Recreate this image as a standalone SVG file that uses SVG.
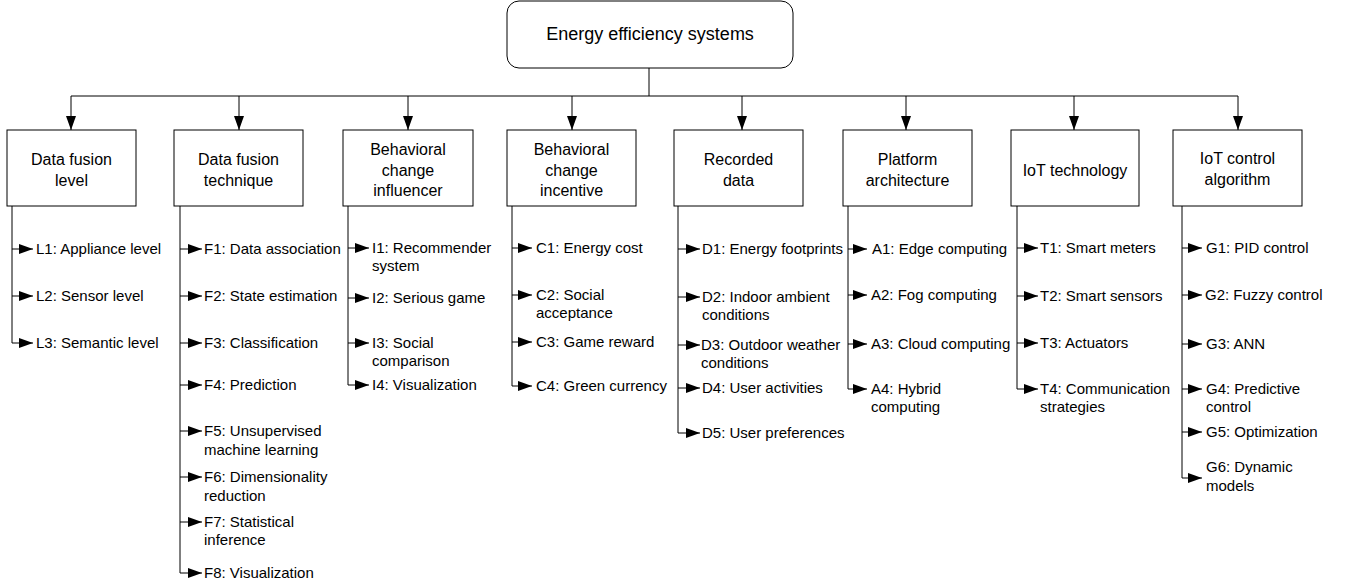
<svg xmlns="http://www.w3.org/2000/svg" width="1347" height="588" viewBox="0 0 1347 588">
<style>
.box{fill:#fff;stroke:#000;stroke-width:1}
.ln{fill:none;stroke:#000;stroke-width:1}
.t{font-family:"Liberation Sans",Arial,sans-serif;fill:#000}
.root{font-size:18px;text-anchor:middle}
.cat{font-size:16px;text-anchor:middle}
.leaf{font-size:15px}
</style>
<defs>
<marker id="ah" markerUnits="userSpaceOnUse" markerWidth="15" markerHeight="11" refX="14" refY="5" orient="auto">
<path d="M0,0 L14,5 L0,10 z" fill="#000"/>
</marker>
</defs>
<rect width="1347" height="588" fill="#fff"/>

<g id="connectors">
<path class="ln" d="M649,68 V96 M71,96 H1238"/>
<path class="ln" marker-end="url(#ah)" d="M71,96 V130"/>
<path class="ln" marker-end="url(#ah)" d="M239,96 V130"/>
<path class="ln" marker-end="url(#ah)" d="M408,96 V130"/>
<path class="ln" marker-end="url(#ah)" d="M572,96 V130"/>
<path class="ln" marker-end="url(#ah)" d="M742,96 V130"/>
<path class="ln" marker-end="url(#ah)" d="M906,96 V130"/>
<path class="ln" marker-end="url(#ah)" d="M1074,96 V130"/>
<path class="ln" marker-end="url(#ah)" d="M1238,96 V130"/>
<!-- L spine -->
<path class="ln" d="M12,206 V343"/>
<path class="ln" marker-end="url(#ah)" d="M12,249 H33"/>
<path class="ln" marker-end="url(#ah)" d="M12,296 H33"/>
<path class="ln" marker-end="url(#ah)" d="M12,343 H33"/>
<!-- F spine -->
<path class="ln" d="M180,206 V573"/>
<path class="ln" marker-end="url(#ah)" d="M180,249 H202"/>
<path class="ln" marker-end="url(#ah)" d="M180,296 H202"/>
<path class="ln" marker-end="url(#ah)" d="M180,343 H202"/>
<path class="ln" marker-end="url(#ah)" d="M180,385 H202"/>
<path class="ln" marker-end="url(#ah)" d="M180,431 H202"/>
<path class="ln" marker-end="url(#ah)" d="M180,477 H202"/>
<path class="ln" marker-end="url(#ah)" d="M180,522 H202"/>
<path class="ln" marker-end="url(#ah)" d="M180,573 H202"/>
<!-- I spine -->
<path class="ln" d="M348,206 V385"/>
<path class="ln" marker-end="url(#ah)" d="M348,248 H369"/>
<path class="ln" marker-end="url(#ah)" d="M348,298 H369"/>
<path class="ln" marker-end="url(#ah)" d="M348,343 H369"/>
<path class="ln" marker-end="url(#ah)" d="M348,385 H369"/>
<!-- C spine -->
<path class="ln" d="M512,206 V386"/>
<path class="ln" marker-end="url(#ah)" d="M512,248 H532"/>
<path class="ln" marker-end="url(#ah)" d="M512,295 H532"/>
<path class="ln" marker-end="url(#ah)" d="M512,342 H532"/>
<path class="ln" marker-end="url(#ah)" d="M512,386 H532"/>
<!-- D spine -->
<path class="ln" d="M678,206 V433"/>
<path class="ln" marker-end="url(#ah)" d="M678,249 H700"/>
<path class="ln" marker-end="url(#ah)" d="M678,297 H700"/>
<path class="ln" marker-end="url(#ah)" d="M678,345 H700"/>
<path class="ln" marker-end="url(#ah)" d="M678,388 H700"/>
<path class="ln" marker-end="url(#ah)" d="M678,433 H700"/>
<!-- A spine -->
<path class="ln" d="M848,206 V389"/>
<path class="ln" marker-end="url(#ah)" d="M848,249 H867"/>
<path class="ln" marker-end="url(#ah)" d="M848,295 H867"/>
<path class="ln" marker-end="url(#ah)" d="M848,344 H867"/>
<path class="ln" marker-end="url(#ah)" d="M848,389 H867"/>
<!-- T spine -->
<path class="ln" d="M1017,206 V389"/>
<path class="ln" marker-end="url(#ah)" d="M1017,248 H1038"/>
<path class="ln" marker-end="url(#ah)" d="M1017,296 H1038"/>
<path class="ln" marker-end="url(#ah)" d="M1017,343 H1038"/>
<path class="ln" marker-end="url(#ah)" d="M1017,389 H1038"/>
<!-- G spine -->
<path class="ln" d="M1182,206 V478"/>
<path class="ln" marker-end="url(#ah)" d="M1182,248 H1202"/>
<path class="ln" marker-end="url(#ah)" d="M1182,295 H1202"/>
<path class="ln" marker-end="url(#ah)" d="M1182,344 H1202"/>
<path class="ln" marker-end="url(#ah)" d="M1182,389 H1202"/>
<path class="ln" marker-end="url(#ah)" d="M1182,432 H1202"/>
<path class="ln" marker-end="url(#ah)" d="M1182,478 H1202"/>
</g>

<g id="root">
<rect class="box" x="507" y="1" width="286" height="67" rx="12"/>
<text class="t root" x="650" y="40">Energy efficiency systems</text>
</g>

<g id="data-fusion-level">
<rect class="box" x="7" y="130" width="129" height="76"/>
<text class="t cat" x="71.5" y="165">Data fusion</text>
<text class="t cat" x="71.5" y="186">level</text>
</g>
<g id="data-fusion-technique">
<rect class="box" x="174" y="130" width="129" height="76"/>
<text class="t cat" x="238.5" y="165">Data fusion</text>
<text class="t cat" x="238.5" y="186">technique</text>
</g>
<g id="behavioral-change-influencer">
<rect class="box" x="343" y="130" width="130" height="76"/>
<text class="t cat" x="408" y="155">Behavioral</text>
<text class="t cat" x="408" y="176">change</text>
<text class="t cat" x="408" y="196">influencer</text>
</g>
<g id="behavioral-change-incentive">
<rect class="box" x="507" y="130" width="129" height="76"/>
<text class="t cat" x="571.5" y="155">Behavioral</text>
<text class="t cat" x="571.5" y="176">change</text>
<text class="t cat" x="571.5" y="196">incentive</text>
</g>
<g id="recorded-data">
<rect class="box" x="674" y="130" width="129" height="76"/>
<text class="t cat" x="738.5" y="165">Recorded</text>
<text class="t cat" x="738.5" y="186">data</text>
</g>
<g id="platform-architecture">
<rect class="box" x="843" y="130" width="129" height="76"/>
<text class="t cat" x="907.5" y="165">Platform</text>
<text class="t cat" x="907.5" y="186">architecture</text>
</g>
<g id="iot-technology">
<rect class="box" x="1011" y="130" width="128" height="76"/>
<text class="t cat" x="1075" y="176">IoT technology</text>
</g>
<g id="iot-control-algorithm">
<rect class="box" x="1173" y="130" width="129" height="76"/>
<text class="t cat" x="1237.5" y="164">IoT control</text>
<text class="t cat" x="1237.5" y="185">algorithm</text>
</g>

<g id="leaves-L" class="t leaf">
<text x="36" y="254">L1: Appliance level</text>
<text x="36" y="301">L2: Sensor level</text>
<text x="36" y="348">L3: Semantic level</text>
</g>
<g id="leaves-F" class="t leaf">
<text x="204" y="254">F1: Data association</text>
<text x="204" y="301">F2: State estimation</text>
<text x="204" y="348">F3: Classification</text>
<text x="204" y="390">F4: Prediction</text>
<text x="204" y="436">F5: Unsupervised</text>
<text x="204" y="455">machine learning</text>
<text x="204" y="482">F6: Dimensionality</text>
<text x="204" y="501">reduction</text>
<text x="204" y="527">F7: Statistical</text>
<text x="204" y="545">inference</text>
<text x="204" y="578">F8: Visualization</text>
</g>
<g id="leaves-I" class="t leaf">
<text x="372" y="253">I1: Recommender</text>
<text x="372" y="271">system</text>
<text x="372" y="303">I2: Serious game</text>
<text x="372" y="348">I3: Social</text>
<text x="372" y="366">comparison</text>
<text x="372" y="390">I4: Visualization</text>
</g>
<g id="leaves-C" class="t leaf">
<text x="536" y="253">C1: Energy cost</text>
<text x="536" y="300">C2: Social</text>
<text x="536" y="318">acceptance</text>
<text x="536" y="347">C3: Game reward</text>
<text x="536" y="391">C4: Green currency</text>
</g>
<g id="leaves-D" class="t leaf">
<text x="702" y="254">D1: Energy footprints</text>
<text x="702" y="302">D2: Indoor ambient</text>
<text x="702" y="320">conditions</text>
<text x="701" y="350">D3: Outdoor weather</text>
<text x="701" y="368">conditions</text>
<text x="702" y="393">D4: User activities</text>
<text x="702" y="438">D5: User preferences</text>
</g>
<g id="leaves-A" class="t leaf">
<text x="872" y="254">A1: Edge computing</text>
<text x="871" y="300">A2: Fog computing</text>
<text x="871" y="349">A3: Cloud computing</text>
<text x="871" y="394">A4: Hybrid</text>
<text x="871" y="412">computing</text>
</g>
<g id="leaves-T" class="t leaf">
<text x="1040" y="253">T1: Smart meters</text>
<text x="1040" y="301">T2: Smart sensors</text>
<text x="1040" y="348">T3: Actuators</text>
<text x="1040" y="394">T4: Communication</text>
<text x="1040" y="412">strategies</text>
</g>
<g id="leaves-G" class="t leaf">
<text x="1206" y="253">G1: PID control</text>
<text x="1205" y="300">G2: Fuzzy control</text>
<text x="1206" y="349">G3: ANN</text>
<text x="1206" y="394">G4: Predictive</text>
<text x="1206" y="412">control</text>
<text x="1206" y="437">G5: Optimization</text>
<text x="1206" y="472">G6: Dynamic</text>
<text x="1206" y="491">models</text>
</g>
</svg>
